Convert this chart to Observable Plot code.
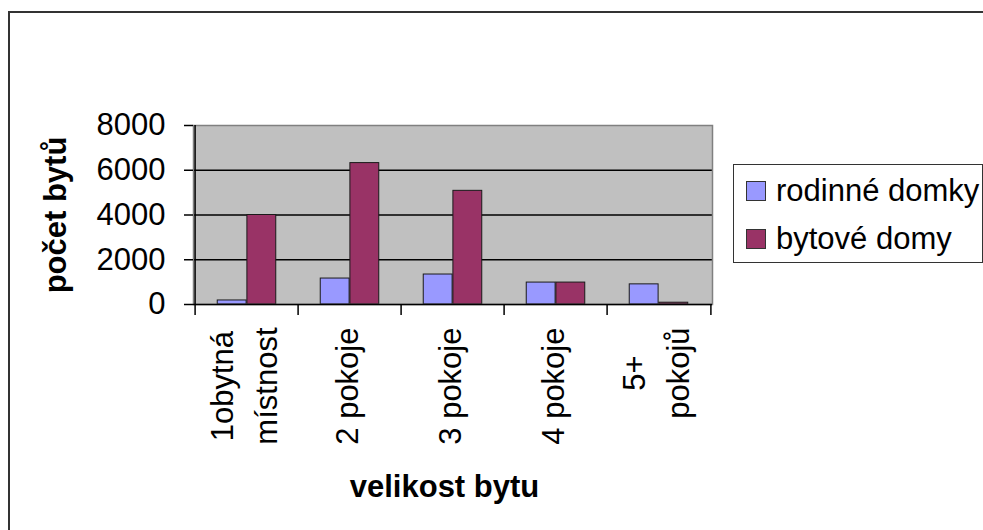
<!DOCTYPE html>
<html><head><meta charset="utf-8">
<script src="https://cdn.jsdelivr.net/npm/d3@7"></script>
<script src="https://cdn.jsdelivr.net/npm/@observablehq/plot@0.6"></script>
<style>
body{margin:0;width:983px;height:530px;overflow:hidden;background:#fff;font-family:"Liberation Sans",Arial,sans-serif;position:relative}
#frame{position:absolute;left:8px;top:11px;width:1200px;height:800px;border:2px solid #333;box-sizing:border-box}
#chart{position:absolute;left:0;top:0}
#legend{position:absolute;left:733px;top:164px;width:250px;height:99px;border:1px solid #333;background:#fff;box-sizing:border-box}
.row{position:absolute;left:12px;font-size:31px;line-height:31px;white-space:nowrap;color:#000}
.sw{display:inline-block;width:20px;height:20px;border:1px solid #333;box-sizing:border-box;margin-right:10px}
</style></head><body>
<div id="frame"></div><div id="chart"></div><div id="legend"></div>
<script>
const categories = ["1obytná\nmístnost", "2 pokoje", "3 pokoje", "4 pokoje", "5+\npokojů"];
const series = ["rodinné domky", "bytové domy"];
const rodinneDomky = [180, 1160, 1340, 980, 900];
const bytoveDomy = [4000, 6320, 5080, 980, 80];
const yTicks = [0, 2000, 4000, 6000, 8000];
const colors = ["#9999FF", "#993366"];
const xTitle = "velikost bytu";
const yTitle = "počet bytů";

const values = [rodinneDomky, bytoveDomy];
const table = series.flatMap((s, si) => categories.map((c, ci) => ({series: s, category: c, value: values[si][ci]})));

const W = 983, H = 530, mL = 193, mR = 271, mT = 125, mB = 226;
const bw = (W - mL - mR) / categories.length;
const step = bw / 3.5; // Excel gap width 150%
const FS = 31;

const ctx = document.createElement("canvas").getContext("2d");
ctx.font = `${FS}px "Liberation Sans"`;
const halfLen = (t) => Math.max(...t.split("\n").map(l => ctx.measureText(l).width)) / 2;

const barMarks = series.map((s, si) => Plot.barY(table.filter(d => d.series === s), {
  x: "category", y: "value", fill: colors[si], stroke: "#1a1a1a", strokeWidth: 1,
  insetLeft: si === 0 ? 0.75 * step : 1.75 * step,
  insetRight: si === 0 ? bw - 1.75 * step : 0.75 * step
}));

const labelMarks = categories.map(c => Plot.text([c], {
  x: d => d, frameAnchor: "bottom", rotate: -90, textAnchor: "middle", lineAnchor: "middle",
  dx: -6, dy: 23 + halfLen(c), fontSize: FS, lineHeight: 1.4, fill: "#000"
}));

const chart = Plot.plot({
  width: W, height: H,
  marginLeft: mL, marginRight: mR, marginTop: mT, marginBottom: mB,
  style: {fontFamily: "Liberation Sans, Arial, sans-serif", fontSize: FS + "px", background: "transparent", overflow: "visible", color: "#000"},
  x: {type: "band", domain: categories, padding: 0, axis: null},
  y: {domain: [0, 8000], axis: null},
  marks: [
    Plot.frame({fill: "#C0C0C0", stroke: null}),
    Plot.ruleY(yTicks.slice(1, -1), {stroke: "#000", strokeWidth: 1.5}),
    ...barMarks,
    Plot.frame({stroke: "#808080", strokeWidth: 1.5}),
    Plot.ruleY([0], {stroke: "#000", strokeWidth: 1.5}),
    Plot.ruleX([categories[0]], {x: d => d, dx: -bw / 2, stroke: "#000", strokeWidth: 1.5}),
    Plot.axisY({ticks: yTicks, tickSize: 9, tickPadding: 19, tickFormat: d => String(d), fontSize: FS, label: null, stroke: "#000", strokeWidth: 1.5}),
    Plot.axisX({ticks: categories, tickSize: 11, text: null, label: null, dx: -bw / 2, stroke: "#000", strokeWidth: 1.5}),
    Plot.axisX({ticks: categories.slice(-1), tickSize: 11, text: null, label: null, dx: bw / 2, stroke: "#000", strokeWidth: 1.5}),
    ...labelMarks,
    Plot.text([yTitle], {frameAnchor: "left", dx: -137, rotate: -90, textAnchor: "middle", lineAnchor: "middle", fontSize: FS, fontWeight: "bold", fill: "#000"}),
    Plot.text([xTitle], {frameAnchor: "bottom", dx: -8.5, dy: 183, textAnchor: "middle", lineAnchor: "middle", fontSize: FS, fontWeight: "bold", fill: "#000"})
  ]
});
document.getElementById("chart").appendChild(chart);

const legend = document.getElementById("legend");
series.forEach((s, i) => {
  const row = document.createElement("div");
  row.className = "row";
  row.style.top = (10.4 + i * 47.4) + "px";
  const sw = document.createElement("span");
  sw.className = "sw";
  sw.style.background = colors[i];
  row.appendChild(sw);
  row.appendChild(document.createTextNode(s));
  legend.appendChild(row);
});
</script>
</body></html>
